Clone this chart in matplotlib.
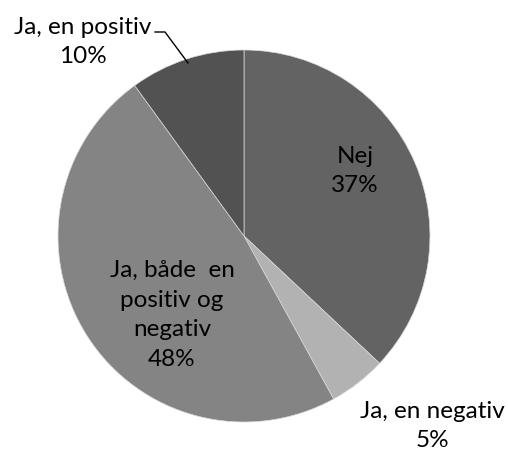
import matplotlib
matplotlib.use("Agg")
import matplotlib.pyplot as plt

categories = ["Nej", "Ja, en negativ", "Ja, både  en\npositiv og\nnegativ", "Ja, en positiv"]
values = [37, 5, 48, 10]
colors = ["#636363", "#b2b2b2", "#848484", "#525252"]

plt.rcParams['font.family'] = ['Lato', 'DejaVu Sans']

W, H = 508, 450
fig = plt.figure(figsize=(W / 100, H / 100), dpi=100)
cx, cy, r = 244, 236, 186
ax = fig.add_axes([(cx - r) / W, (H - cy - r) / H, 2 * r / W, 2 * r / H])
ax.pie(values, colors=colors, startangle=90, counterclock=False, radius=1,
       wedgeprops=dict(edgecolor="#d9d9d9", linewidth=0.5))
ax.set_xlim(-1, 1)
ax.set_ylim(-1, 1)
ax.set_aspect('auto')
ax.axis('off')

def d(px, py):
    return ((px - cx) / r, (cy - py) / r)

label_pos = [d(355, 171), d(432, 426), d(172, 315), d(83, 42)]
for cat, val, (x, y) in zip(categories, values, label_pos):
    ax.text(x, y, f"{cat}\n{val}%", ha='center', va='center', fontsize=17.5,
            color='black', linespacing=1.5, clip_on=False)

lx, ly = zip(d(155, 32), d(165, 32), d(188, 63))
ax.plot(lx, ly, color='black', lw=1, clip_on=False)

fig.savefig("out.png", dpi=100)
